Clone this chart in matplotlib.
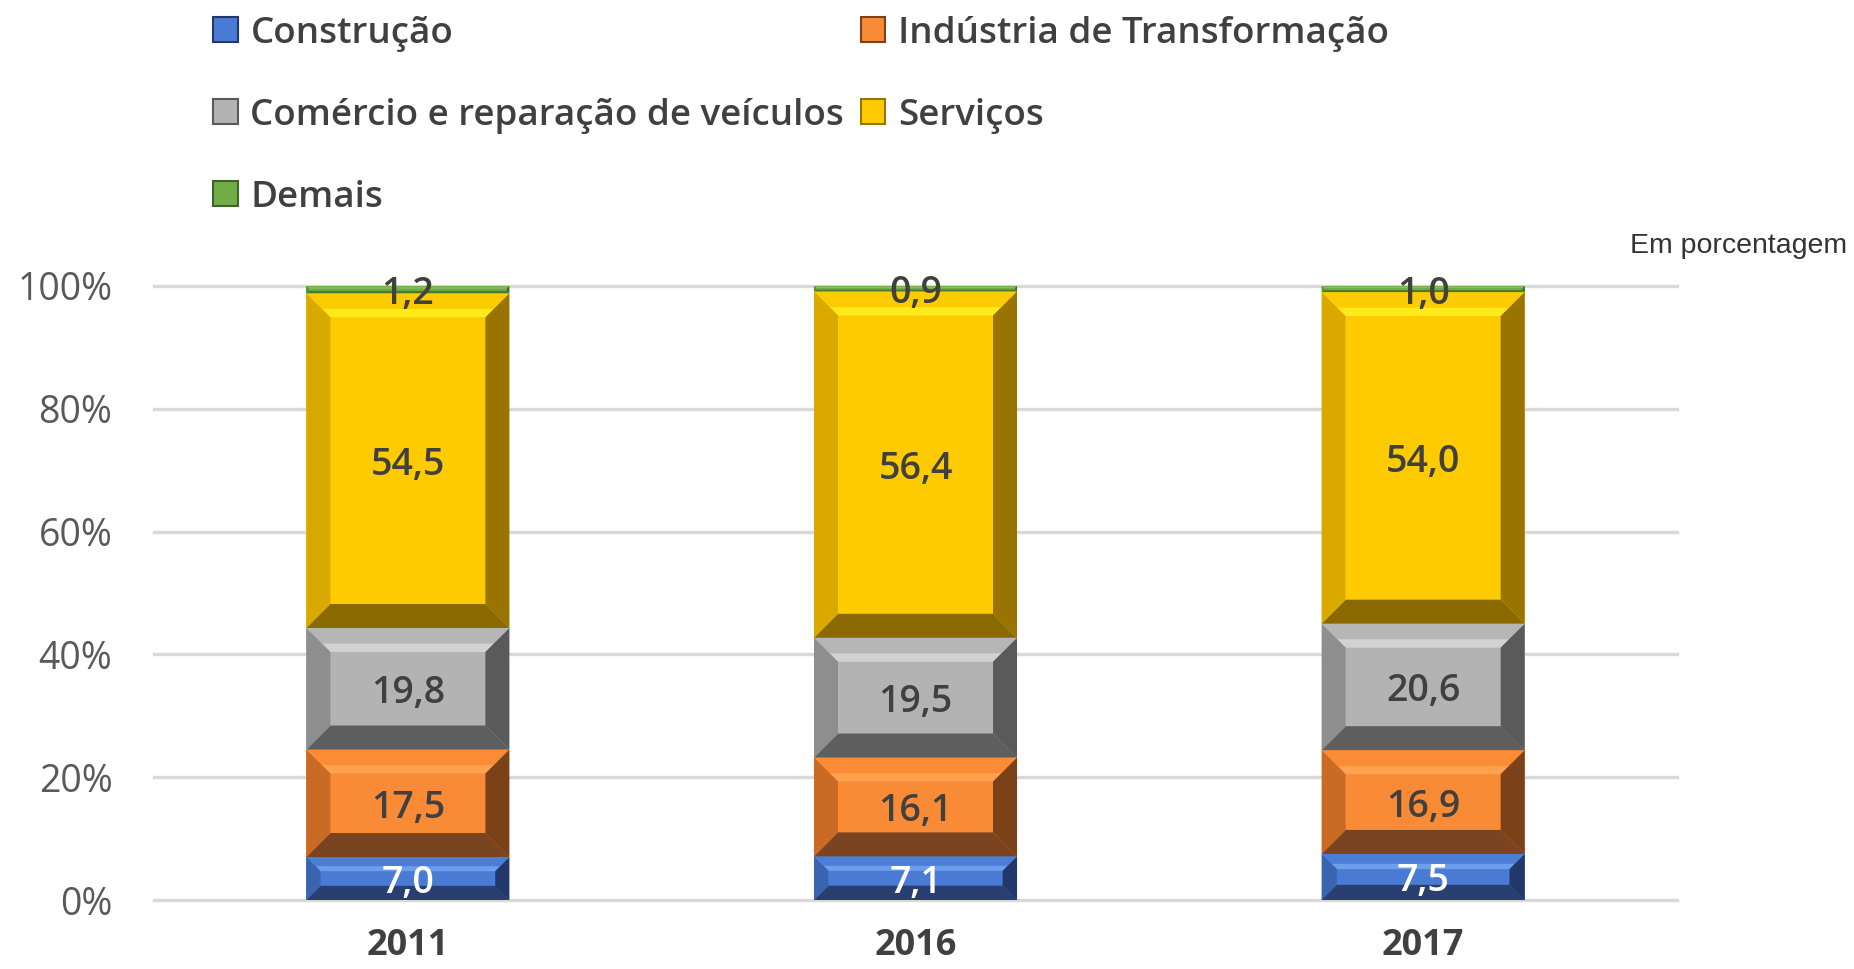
import matplotlib
matplotlib.use("Agg")
import matplotlib.pyplot as plt
from matplotlib.patches import Polygon, Patch

# Dados (em porcentagem)
anos = ["2011", "2016", "2017"]
setores = ["Construção", "Indústria de Transformação",
           "Comércio e reparação de veículos", "Serviços", "Demais"]
construcao = [7.0, 7.1, 7.5]
industria = [17.5, 16.1, 16.9]
comercio = [19.8, 19.5, 20.6]
servicos = [54.5, 56.4, 54.0]
demais = [1.2, 0.9, 1.0]
series = [construcao, industria, comercio, servicos, demais]

# face, topo, brilho, esquerda, direita, base, cor do rótulo
estilos = [
    dict(face="#4A7BD4", top="#4C7ED8", hl="#6C9EEC", left="#3A64B0", right="#23386A", bot="#283F70", txt="white"),
    dict(face="#F98A36", top="#FC8B35", hl="#FFA24F", left="#C96A25", right="#7B4119", bot="#7A4420", txt="#404040"),
    dict(face="#B3B3B3", top="#B6B6B6", hl="#D2D2D2", left="#8E8E8E", right="#5A5A5A", bot="#5E5E5E", txt="#404040"),
    dict(face="#FDCB00", top="#FDCC00", hl="#FFEA1C", left="#DAA900", right="#9A7400", bot="#8A6A00", txt="#404040"),
    dict(face="#70AD47", top="#72B048", hl="#8FCB63", left="#5A8F38", right="#3E6426", bot="#4A7A2E", txt="#404040"),
]

FONTE = "Open Sans"
plt.rcParams["font.family"] = [FONTE, "DejaVu Sans"]

fig = plt.figure(figsize=(18.54, 9.69), dpi=100)
ax = fig.add_axes([0.0831, 0.0712, 0.8214, 0.6337])
ax.set_xlim(-0.5, 2.5)
ax.set_ylim(0, 100)
for s in ax.spines.values():
    s.set_visible(False)

yticks = [0, 20, 40, 60, 80, 100]
for v in yticks:
    ax.axhline(v, color="#D9D9D9", lw=2.4, zorder=0, clip_on=False)
ax.set_yticks(yticks)
ax.set_yticklabels([f"{v}%" for v in yticks], fontsize=27, color="#595959")
ax.set_xticks(range(len(anos)))
ax.set_xticklabels(anos, fontsize=26, fontweight="bold", color="#404040")
ax.tick_params(axis="y", length=0, pad=30)
ax.tick_params(axis="x", length=0, pad=20)

# escala pixel -> dados para o chanfro
p0 = ax.transData.transform((0, 0))
p1 = ax.transData.transform((1, 1))
px_x = p1[0] - p0[0]
px_y = p1[1] - p0[1]

largura = 0.4
x = list(range(len(anos)))
base = [0.0] * len(anos)
for vals, st in zip(series, estilos):
    for i, v in enumerate(vals):
        x0 = x[i] - largura / 2
        x1 = x[i] + largura / 2
        y0 = base[i]
        y1 = base[i] + v
        ax.bar(x[i], v, width=largura, bottom=y0, color=st["face"], zorder=2)
        bev = min(24.0, 0.33 * v * px_y)
        dx = bev / px_x
        dy = bev / px_y
        # faixa de brilho logo abaixo do chanfro superior
        ym = y1 - 0.65 * dy
        xm = 0.65 * dx
        lados = [
            ([(x0, y1), (x1, y1), (x1 - dx, y1 - dy), (x0 + dx, y1 - dy)], st["hl"]),
            ([(x0, y1), (x1, y1), (x1 - xm, ym), (x0 + xm, ym)], st["top"]),
            ([(x0, y0), (x1, y0), (x1 - dx, y0 + dy), (x0 + dx, y0 + dy)], st["bot"]),
            ([(x0, y0), (x0, y1), (x0 + dx, y1 - dy), (x0 + dx, y0 + dy)], st["left"]),
            ([(x1, y0), (x1, y1), (x1 - dx, y1 - dy), (x1 - dx, y0 + dy)], st["right"]),
        ]
        for pts, cor in lados:
            ax.add_patch(Polygon(pts, closed=True, facecolor=cor, edgecolor="none", zorder=3))
        rotulo = f"{v:.1f}".replace(".", ",")
        ax.text(x[i], y0 + v / 2, rotulo, ha="center", va="center_baseline",
                fontsize=27, fontweight="semibold", color=st["txt"], zorder=4)
        base[i] = y1

# Legenda (preenchimento por coluna)
ordem = [0, 2, 4, 1, 3]
handles = [Patch(facecolor=estilos[k]["face"], edgecolor=estilos[k]["right"], lw=1.5) for k in ordem]
labels = [setores[k] for k in ordem]
fig.legend(handles, labels, ncol=2, loc="upper left", bbox_to_anchor=(0.1150, 0.984),
           frameon=False, prop={"size": 26.5, "weight": "semibold"}, labelcolor="#404040",
           handlelength=0.66, handleheight=0.66, handletextpad=0.35, columnspacing=0.45,
           labelspacing=1.25, borderpad=0, borderaxespad=0)

fig.text(0.9962, 1 - 246 / 969, "Em porcentagem", ha="right", va="center",
         fontsize=20.5, family="Liberation Sans", color="#333333")

fig.savefig("out.png", dpi=100)
